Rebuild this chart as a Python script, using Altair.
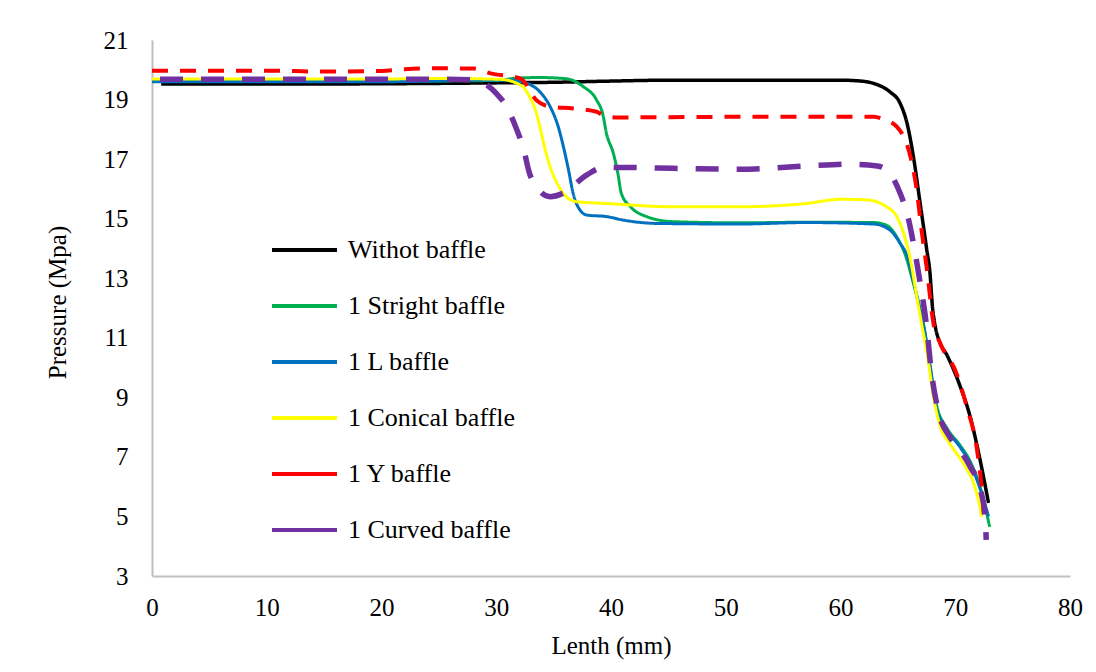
import altair as alt
import pandas as pd

names = ["Withot baffle", "1 Stright baffle", "1 L baffle", "1 Conical baffle", "1 Y baffle", "1 Curved baffle"]
colors = ["#000000", "#00B050", "#0070C0", "#FFFF00", "#FF0000", "#7030A0"]
dashes = [[1, 0], [1, 0], [1, 0], [1, 0], [16, 12], [23, 18]]
widths = [3.5, 3, 3, 3, 4, 5.5]

black_x = [0.8, 10, 20, 30, 35, 40, 45, 50, 55, 60, 61.5, 62.9, 64.3, 65.2, 65.8, 66.4, 66.9, 67.5, 67.8, 68.0, 68.3, 68.6, 69.3, 70.4, 71.3, 72.0, 72.9]
black_y = [19.52, 19.52, 19.53, 19.56, 19.58, 19.62, 19.65, 19.65, 19.65, 19.65, 19.63, 19.54, 19.26, 18.87, 18.2, 16.97, 15.63, 14.0, 13.16, 12.1, 11.3, 10.9, 10.4, 9.4, 8.35, 7.2, 5.45]

green_x = [0, 10, 20, 30, 31.8, 33.8, 36.1, 37.6, 38.75, 39.3, 39.6, 40.2, 40.6, 40.9, 41.7, 43.1, 45.4, 51.2, 57, 62.9, 64.0, 64.9, 65.8, 66.3, 66.8, 67.3, 67.8, 68.4, 69.3, 70.4, 71.3, 72.2, 73.0]
green_y = [19.62, 19.62, 19.62, 19.64, 19.72, 19.74, 19.7, 19.43, 18.98, 18.48, 17.87, 17.2, 16.52, 15.85, 15.4, 15.07, 14.9, 14.86, 14.88, 14.87, 14.78, 14.39, 13.61, 12.9, 12.2, 11.3, 10.0, 8.7, 7.95, 7.4, 6.85, 5.95, 4.65]

blue_x = [0, 10, 20, 30.9, 32.7, 33.8, 34.7, 35.4, 35.85, 36.3, 36.7, 37.3, 37.9, 39.6, 41.1, 44.0, 51.2, 57.0, 62.9, 64.3, 65.2, 65.8, 66.3, 66.7, 67.3, 67.8, 68.4, 69.3, 70.4, 71.3, 72.2, 72.9]
blue_y = [19.6, 19.6, 19.6, 19.66, 19.54, 19.26, 18.76, 18.09, 17.42, 16.63, 15.85, 15.29, 15.12, 15.07, 14.95, 14.84, 14.82, 14.87, 14.82, 14.62, 14.17, 13.75, 13.0, 12.3, 11.3, 10.1, 8.6, 7.9, 7.34, 6.78, 5.89, 5.0]

yellow_x = [0, 10, 20, 25.1, 30.3, 32.1, 32.9, 33.5, 33.8, 34.2, 34.7, 35.3, 36.1, 37.0, 39.6, 45.4, 51.2, 57.0, 60.0, 62.3, 64.0, 64.9, 65.5, 66.1, 66.6, 67.1, 67.5, 68.1, 68.7, 69.5, 70.7, 71.6, 72.2, 72.3]
yellow_y = [19.69, 19.69, 19.69, 19.71, 19.68, 19.49, 19.1, 18.54, 18.09, 17.42, 16.74, 16.19, 15.74, 15.57, 15.51, 15.4, 15.4, 15.51, 15.65, 15.63, 15.4, 15.07, 14.51, 13.61, 12.49, 11.4, 10.59, 9.02, 8.01, 7.46, 6.78, 6.11, 5.22, 4.99]

red_x = [0, 10, 15, 20, 22, 25.1, 28, 29.5, 32.1, 33.5, 34.7, 36.7, 38.75, 39.3, 40.5, 51.2, 62.9, 63.7, 64.9, 65.5, 66.1, 66.6, 67.1, 67.5, 68.1, 68.7, 70.1, 71.0, 71.9, 72.2, 72.4, 72.5]
red_y = [19.97, 19.97, 19.94, 19.96, 20.02, 20.05, 20.04, 19.88, 19.71, 18.98, 18.76, 18.7, 18.59, 18.48, 18.40, 18.42, 18.42, 18.34, 18.09, 17.75, 17.08, 16.07, 14.51, 13.39, 11.49, 10.81, 9.81, 8.69, 7.23, 6.33, 5.55, 4.99]

purple_x = [0.7, 10, 20, 25.1, 28.0, 30.0, 30.9, 31.8, 32.4, 32.9, 33.5, 34.7, 35.8, 37.9, 39.3, 41.4, 45.4, 51.2, 57.0, 60.8, 63.2, 64.3, 65.2, 65.8, 66.3, 66.9, 67.5, 67.9, 68.5, 69.5, 70.4, 71.3, 72.2, 72.6, 72.7]
purple_y = [19.68, 19.68, 19.68, 19.68, 19.66, 19.21, 18.76, 17.98, 17.31, 16.52, 16.07, 15.74, 15.85, 16.47, 16.72, 16.72, 16.69, 16.66, 16.77, 16.83, 16.77, 16.52, 15.85, 15.18, 14.28, 12.94, 11.4, 9.92, 8.57, 7.68, 7.23, 6.67, 5.89, 4.99, 4.21]

series_x = [black_x, green_x, blue_x, yellow_x, red_x, purple_x]
series_y = [black_y, green_y, blue_y, yellow_y, red_y, purple_y]

rows = []
for i, (nm, xs, ys) in enumerate(zip(names, series_x, series_y)):
    for k, (xv, yv) in enumerate(zip(xs, ys)):
        rows.append({"series": nm, "style": nm + " ", "k": k, "x": xv, "y": yv, "w": widths[i]})
df = pd.DataFrame(rows)
style_names = [n + " " for n in names]

FONT = "Liberation Serif"

chart = alt.Chart(df).mark_line(interpolate="monotone", strokeCap="butt").encode(
    x=alt.X("x:Q", scale=alt.Scale(domain=[0, 80], nice=False),
            axis=alt.Axis(title="Lenth (mm)", values=list(range(0, 81, 10)), labelPadding=19,
                          labelFlush=False, titleY=69, titleBaseline="middle")),
    y=alt.Y("y:Q", scale=alt.Scale(domain=[3, 21], nice=False),
            axis=alt.Axis(title="Pressure (Mpa)", values=list(range(3, 22, 2)), labelPadding=24,
                          labelFlush=False, titleX=-95, titleY=262, titleAngle=-90,
                          titleAlign="center", titleBaseline="middle")),
    color=alt.Color("series:N", sort=names, scale=alt.Scale(domain=names, range=colors),
                    legend=alt.Legend(title=None, orient="none", legendX=118, legendY=190,
                                      symbolType="stroke", symbolSize=4225, symbolStrokeWidth=4,
                                      clipHeight=40, rowPadding=16, labelOffset=9, labelLimit=0,
                                      labelFont=FONT, labelFontSize=26, labelColor="#000000",
                                      padding=0)),
    strokeDash=alt.StrokeDash("style:N", sort=style_names,
                              scale=alt.Scale(domain=style_names, range=dashes), legend=None),
    strokeWidth=alt.StrokeWidth("w:Q", scale=None, legend=None),
    order=alt.Order("k:Q"),
).properties(
    width=918, height=536,
    autosize=alt.AutoSizeParams(type="none"),
    padding={"left": 152, "top": 40, "right": 26, "bottom": 96},
    background="#FFFFFF",
).configure_view(stroke=None).configure_axis(
    grid=False, ticks=False, tickSize=0, domainColor="#BFBFBF", domainWidth=2,
    labelFont=FONT, labelFontSize=25, labelColor="#000000",
    titleFont=FONT, titleFontSize=25, titleColor="#000000", titleFontWeight="normal",
)

chart.save("out.html", embed_options={"renderer": "svg", "actions": False})
